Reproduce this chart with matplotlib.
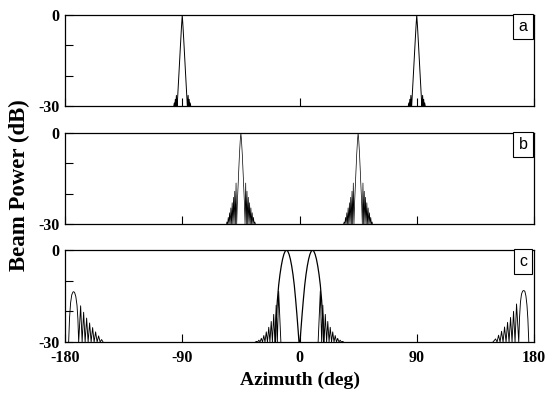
import matplotlib.pyplot as plt
import numpy as np

plt.rcParams['font.family'] = 'Liberation Serif'

# panel a: two narrow beams at +/-90, offsets from beam direction (deg) and power (dB)
a_steer = [-90, 90]
a_off = [-6.5, -6.1, -5.7, -5.3, -4.9, -4.5, -4.1, -3.9, -2.5, -1.5, -0.6, 0,
         0.6, 1.5, 2.5, 3.9, 4.1, 4.5, 4.9, 5.3, 5.7, 6.1, 6.5]
a_db = [-30, -29, -30, -27.8, -30, -26.5, -30, -30, -19, -11, -4, 0,
        -4, -11, -19, -30, -30, -26.5, -30, -27.8, -30, -29, -30]

# panel b: beams at +/-45
b_steer = [-45, 45]
b_off = [-11.2, -10.7, -10.2, -9.7, -9.2, -8.7, -8.2, -7.7, -7.2, -6.7, -6.2,
         -5.7, -5.2, -4.7, -4.2, -3.7, -3.2,
         -2.7, -2.0, -1.2, -0.5, 0, 0.5, 1.2, 2.0, 2.7,
         3.2, 3.7, 4.2, 4.7, 5.2, 5.7, 6.2, 6.7, 7.2, 7.7, 8.2,
         8.7, 9.2, 9.7, 10.2, 10.7, 11.2]
b_db = [-30, -29.3, -30, -27.8, -30, -26.3, -30, -24.7, -30, -23, -30,
        -21.2, -30, -19.2, -30, -16.5, -30,
        -23, -16, -8, -2.5, 0, -2.5, -8, -16, -23,
        -30, -16.5, -30, -19.2, -30, -21.2, -30, -23, -30, -24.7, -30,
        -26.3, -30, -27.8, -30, -29.3, -30]

# panel c: split beam around broadside
c_arch_deg = [-18.5, -17.8, -17, -16, -15, -14, -13, -12, -11, -10, -9, -8, -7,
              -6, -5, -4, -3, -2, -1, -0.4, 0, 0.4, 1, 2, 3, 4, 5, 6, 7, 8, 9,
              10, 11, 12, 13, 14, 15, 16, 17, 17.8, 18.5]
c_arch_db = [-30, -22, -16.5, -11.5, -8, -5.2, -3, -1.4, -0.4, 0, -0.4, -1.4, -3,
             -5.2, -8, -11.5, -16, -21, -26.5, -30, -30, -30, -26.5, -21, -16, -11.5,
             -8, -5.2, -3, -1.4, -0.4, 0, -0.4, -1.4, -3, -5.2, -8, -11.5, -16.5, -22, -30]

c_side_left_deg = [-33.8, -33.0, -32.1, -31.2, -30.3, -29.3, -28.4, -27.4, -26.5,
                   -25.5, -24.6, -23.6, -22.7, -21.7, -20.8, -19.8, -18.9, -17.9,
                   -17.0, -16.0, -14.3]
c_side_left_db = [-30, -29.8, -30, -29.4, -30, -28.8, -30, -27.9, -30,
                  -26.7, -30, -25.2, -30, -23.3, -30, -21, -30, -18,
                  -30, -13.5, -30]
c_side_right_deg = [14.3, 16.0, 17.0, 17.9, 18.9, 19.8, 20.8, 21.7, 22.7, 23.6,
                    24.6, 25.5, 26.5, 27.4, 28.4, 29.3, 30.3, 31.2, 32.1, 33.0, 33.8]
c_side_right_db = [-30, -13.3, -30, -18, -30, -21, -30, -23.3, -30, -25.2,
                   -30, -26.7, -30, -27.9, -30, -28.8, -30, -29.4, -30, -29.8, -30]

# lobes near endfire
c_edge_left_deg = [-177.2, -176.5, -175.7, -174.8, -173.9, -173.3, -172.6, -171.7,
                   -170.8, -170.1, -169.5, -168.0, -166.85, -165.7, -164.55, -163.4,
                   -162.25, -161.1, -159.95, -158.8, -157.65, -156.5, -155.35,
                   -154.2, -153.05, -151.9, -150.8]
c_edge_left_db = [-30, -22, -17.2, -14.6, -13.7, -13.6, -13.9, -15.2,
                  -18, -22.5, -30, -18.2, -30, -20.3, -30, -22.2,
                  -30, -23.8, -30, -25.3, -30, -26.7, -30,
                  -28, -30, -29.2, -30]
c_edge_right_deg = [148.5, 150.5, 151.65, 152.8, 153.95, 155.1, 156.25, 157.4,
                    158.55, 159.7, 160.85, 162.0, 163.15, 164.3, 165.45, 166.6,
                    168.3, 168.9, 169.6, 170.4, 171.3, 172.2, 173.0, 173.8,
                    174.6, 175.3, 176.0]
c_edge_right_db = [-30, -29, -30, -27.8, -30, -26.5, -30, -25.1,
                   -30, -23.6, -30, -22, -30, -20, -30, -17.6,
                   -30, -22, -17, -14.4, -13.4, -13.2, -13.5, -15,
                   -18, -22.5, -30]

xticks = [-180, -90, 0, 90, 180]
xtick_labels = ['-180', '-90', '0', '90', '180']
yticks = [-30, -20, -10, 0]
ytick_labels = ['-30', '', '', '0']

fig = plt.figure(figsize=(5.54, 3.96), dpi=100)
left, width = 65 / 554, 469 / 554
ax_a = fig.add_axes([left, 1 - 106 / 396, width, 91 / 396])
ax_b = fig.add_axes([left, 1 - 224 / 396, width, 91 / 396])
ax_c = fig.add_axes([left, 1 - 342 / 396, width, 92 / 396])

for s in a_steer:
    ax_a.plot(np.array(a_off) + s, a_db, color='black', lw=0.7)
for s in b_steer:
    ax_b.plot(np.array(b_off) + s, b_db, color='black', lw=0.5)
ax_c.plot(c_arch_deg, c_arch_db, color='black', lw=0.9)
for xs, ys in [(c_side_left_deg, c_side_left_db),
               (c_side_right_deg, c_side_right_db),
               (c_edge_left_deg, c_edge_left_db),
               (c_edge_right_deg, c_edge_right_db)]:
    ax_c.plot(xs, ys, color='black', lw=0.65)


def setup(ax, letter, show_x):
    ax.set_xlim(-180, 180)
    ax.set_ylim(-30, 0)
    ax.set_xticks(xticks)
    ax.set_yticks(yticks)
    ax.set_yticklabels(ytick_labels, fontweight='bold')
    if show_x:
        ax.set_xticklabels(xtick_labels, fontweight='bold')
    else:
        ax.set_xticklabels([])
    ax.tick_params(direction='in', length=6, width=0.8, labelsize=11.5)
    ax.tick_params(axis='x', pad=6)
    ax.tick_params(axis='y', pad=4)
    for sp in ax.spines.values():
        sp.set_linewidth(0.9)
    ax.text(0.9765, 0.874, letter, transform=ax.transAxes, ha='center',
            va='center', fontsize=11.5, family='Liberation Sans',
            bbox=dict(boxstyle='square,pad=0.32', fc='white', ec='black', lw=0.8))


setup(ax_a, 'a', False)
setup(ax_b, 'b', False)
setup(ax_c, 'c', True)

fig.text(0.036, 0.533, 'Beam Power (dB)', rotation=90, ha='center', va='center',
         fontsize=16.5, fontweight='bold')
fig.text(0.541, 0.04, 'Azimuth (deg)', ha='center', va='center',
         fontsize=14, fontweight='bold')

fig.savefig('out.png', dpi=100)
